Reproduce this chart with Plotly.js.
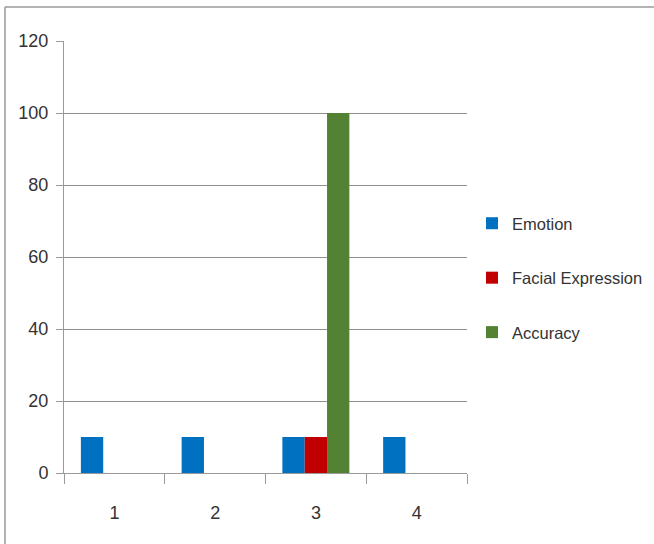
<!DOCTYPE html>
<html>
<head>
<meta charset="utf-8">
<script src="https://cdn.plot.ly/plotly-3.0.1.min.js"></script>
<style>
html,body{margin:0;padding:0;background:#fff;}
#chart{width:654px;height:544px;}
</style>
</head>
<body>
<div id="chart"></div>
<script>
const categories = ["1", "2", "3", "4"];
const emotion = [10, 10, 10, 10];
const facialExpression = [0, 0, 10, 0];
const accuracy = [0, 0, 100, 0];
const seriesNames = ["Emotion", "Facial Expression", "Accuracy"];
const yTicks = [0, 20, 40, 60, 80, 100, 120];

const font = "'Liberation Sans', Arial, sans-serif";
const colors = ["#0070C0", "#C00000", "#548235"];
const seriesData = [emotion, facialExpression, accuracy];

const traces = seriesData.map((vals, i) => ({
  type: "bar",
  name: seriesNames[i],
  x: categories,
  y: vals,
  legendgroup: "g" + i,
  marker: {color: colors[i], line: {width: 0}},
  hoverinfo: "x+y+name"
}));

const W = 654, H = 544;
const L = 64, R = 187, T = 41, B = 71;
const pw = W - L - R, ph = H - T - B;
const px = p => (p - L) / pw;
const py = p => (H - B - p) / ph;

const layout = {
  width: W, height: H,
  margin: {l: L, r: R, t: T, b: B, pad: 0, autoexpand: false},
  paper_bgcolor: "#ffffff",
  plot_bgcolor: "#ffffff",
  barmode: "group",
  bargap: 0.335,
  bargroupgap: 0,
  showlegend: true,
  font: {family: font, size: 18, color: "#333333"},
  xaxis: {
    type: "category",
    tickson: "boundaries",
    ticks: "outside",
    ticklen: 10,
    tickcolor: "#9a9a9a",
    tickwidth: 1,
    showgrid: false,
    showline: true,
    linecolor: "#9a9a9a",
    linewidth: 1,
    ticklabelstandoff: 23,
    tickfont: {family: font, size: 18, color: "#333333"},
    fixedrange: true
  },
  yaxis: {
    range: [0, 120],
    tickvals: yTicks,
    ticktext: yTicks.map(String),
    ticks: "outside",
    ticklen: 7,
    tickcolor: "#9a9a9a",
    showgrid: true,
    gridcolor: "#8f8f8f",
    gridwidth: 1,
    showline: true,
    linecolor: "#9a9a9a",
    zeroline: false,
    ticklabelstandoff: 4,
    tickfont: {family: font, size: 18, color: "#333333"},
    fixedrange: true
  },
  legend: {
    x: px(472), xanchor: "left",
    y: py(206), yanchor: "top",
    font: {family: font, size: 16.5, color: "#333333"},
    traceorder: "grouped",
    tracegroupgap: 30,
    bgcolor: "rgba(0,0,0,0)",
    itemwidth: 30
  },
  shapes: [
    {type: "line", xref: "paper", yref: "paper", x0: px(5), x1: px(5), y0: py(7), y1: py(560), line: {color: "#9a9a9a", width: 1.5}},
    {type: "line", xref: "paper", yref: "paper", x0: px(5), x1: px(660), y0: py(7), y1: py(7), line: {color: "#9a9a9a", width: 1.5}}
  ]
};

Plotly.newPlot("chart", traces, layout, {displayModeBar: false, staticPlot: true});
</script>
</body>
</html>
